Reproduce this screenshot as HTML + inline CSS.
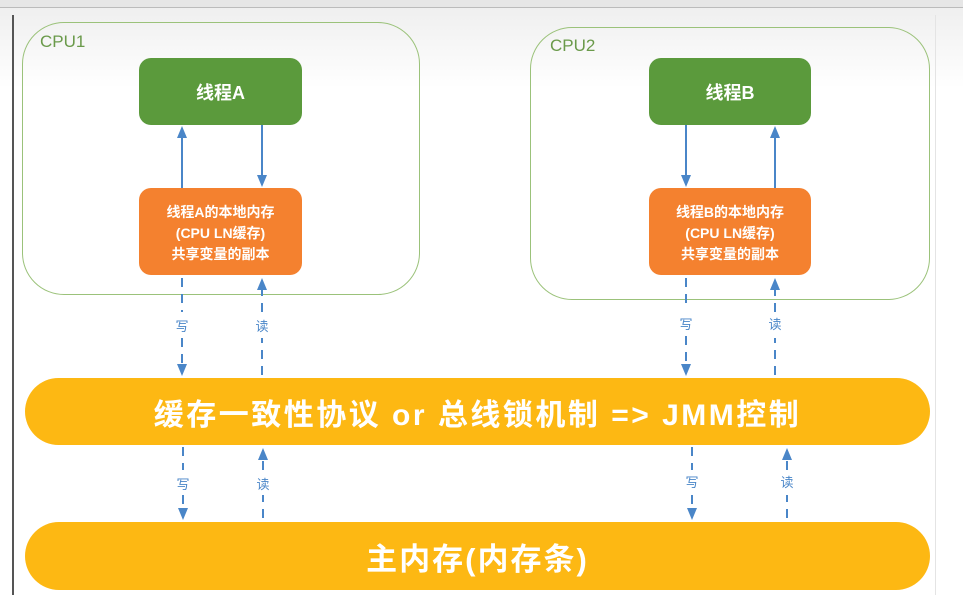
<!DOCTYPE html>
<html><head><meta charset="utf-8"><style>
body{margin:0;width:963px;height:613px;background:#fff;position:relative;overflow:hidden;font-family:"Liberation Sans","Noto Sans CJK SC",sans-serif}
.a{position:absolute}
.cpu{border:1.5px solid #9bc27a;border-radius:42px;box-sizing:border-box}
.cl{color:#6a9a4a;font-size:17px}
.g{background:#5b9a3c;border-radius:12px;color:#fff;font-weight:bold;display:flex;align-items:center;justify-content:center;font-size:18px;box-sizing:border-box}
.o{background:#f4812f;border-radius:12px;color:#fff;font-weight:bold;display:flex;align-items:center;justify-content:center;text-align:center;font-size:14px;line-height:21px;box-sizing:border-box;padding-top:4px}
.bar{background:#fdb813;border-radius:34px;color:#fff;font-weight:bold;display:flex;align-items:center;justify-content:center}
</style></head><body>
<div class="a" style="left:0;top:0;width:963px;height:7px;background:#e6e6e6;border-bottom:1px solid #bbb"></div>
<div class="a" style="left:0;top:8px;width:963px;height:80px;background:linear-gradient(#efefef,#fff)"></div>
<div class="a" style="left:12px;top:15px;width:1.5px;height:580px;background:#555"></div>
<div class="a" style="left:935px;top:15px;width:1px;height:580px;background:#e4e4e4"></div>
<div class="a cpu" style="left:22px;top:22px;width:398px;height:273px"></div>
<div class="a cl" style="left:40px;top:32px">CPU1</div>
<div class="a cpu" style="left:530px;top:27px;width:400px;height:273px"></div>
<div class="a cl" style="left:550px;top:36px">CPU2</div>
<div class="a g" style="left:139px;top:58px;width:163px;height:67px">线程A</div>
<div class="a g" style="left:649px;top:58px;width:162px;height:67px">线程B</div>
<div class="a o" style="left:139px;top:188px;width:163px;height:87px">线程A的本地内存<br>(CPU LN缓存)<br>共享变量的副本</div>
<div class="a o" style="left:649px;top:188px;width:162px;height:87px">线程B的本地内存<br>(CPU LN缓存)<br>共享变量的副本</div>
<div class="a bar" style="left:25px;top:378px;width:905px;height:67px;font-size:30px;letter-spacing:2.5px">缓存一致性协议 or 总线锁机制 =&gt; JMM控制</div>
<div class="a bar" style="left:25px;top:522px;width:905px;height:68px;font-size:31px;letter-spacing:2px">主内存(内存条)</div>
<svg class="a" style="left:0;top:0" width="963" height="613">
<defs><marker id="m" markerWidth="12" markerHeight="10" refX="6" refY="5" orient="auto" markerUnits="userSpaceOnUse"><path d="M0,0 L12,5 L0,10 z" fill="#4a86c8"/></marker></defs>
<g stroke="#4a86c8" stroke-width="2" fill="none">
<line x1="182" y1="188" x2="182" y2="132" marker-end="url(#m)"/>
<line x1="262" y1="125" x2="262" y2="181" marker-end="url(#m)"/>
<line x1="686" y1="125" x2="686" y2="181" marker-end="url(#m)"/>
<line x1="775" y1="188" x2="775" y2="132" marker-end="url(#m)"/>
<g stroke-dasharray="9,7">
<line x1="182" y1="278" x2="182" y2="312"/><line x1="182" y1="338" x2="182" y2="370" marker-end="url(#m)"/>
<line x1="262" y1="375" x2="262" y2="338"/><line x1="262" y1="312" x2="262" y2="284" marker-end="url(#m)"/>
<line x1="686" y1="278" x2="686" y2="310"/><line x1="686" y1="336" x2="686" y2="370" marker-end="url(#m)"/>
<line x1="775" y1="375" x2="775" y2="338"/><line x1="775" y1="312" x2="775" y2="284" marker-end="url(#m)"/>
<line x1="183" y1="447" x2="183" y2="470"/><line x1="183" y1="495" x2="183" y2="514" marker-end="url(#m)"/>
<line x1="263" y1="518" x2="263" y2="495"/><line x1="263" y1="470" x2="263" y2="454" marker-end="url(#m)"/>
<line x1="692" y1="447" x2="692" y2="470"/><line x1="692" y1="495" x2="692" y2="514" marker-end="url(#m)"/>
<line x1="787" y1="518" x2="787" y2="495"/><line x1="787" y1="470" x2="787" y2="454" marker-end="url(#m)"/>
</g></g>
<g fill="#4a86c8" font-size="13" font-family="Liberation Sans,Noto Sans CJK SC,sans-serif" text-anchor="middle">
<text x="182" y="331">写</text><text x="262" y="331">读</text>
<text x="686" y="329">写</text><text x="775" y="329">读</text>
<text x="183" y="489">写</text><text x="263" y="489">读</text>
<text x="692" y="487">写</text><text x="787" y="487">读</text>
</g></svg>
</body></html>
